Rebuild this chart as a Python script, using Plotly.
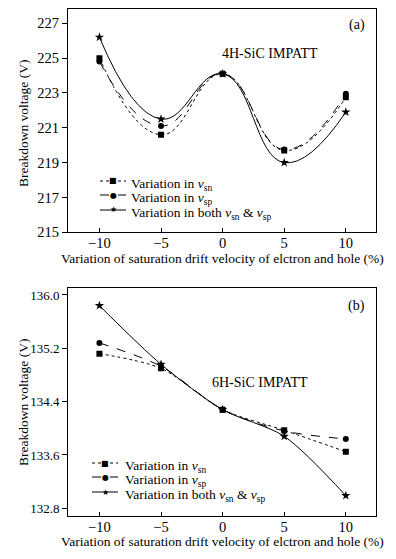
import plotly.graph_objects as go

# ---- data ----
x_pct = [-10, -5, 0, 5, 10]

# (a) 4H-SiC IMPATT
a_vsn = [225.0, 220.6, 224.1, 219.7, 222.75]
a_vsp = [224.8, 221.1, 224.1, 219.75, 222.95]
a_both = [226.2, 221.5, 224.1, 219.0, 221.9]

# (b) 6H-SiC IMPATT
b_vsn = [135.12, 134.90, 134.28, 133.97, 133.65]
b_vsp = [135.28, 134.93, 134.28, 133.96, 133.84]
b_both = [135.84, 134.96, 134.28, 133.88, 132.99]

a_ticks = [215, 217, 219, 221, 223, 225, 227]
b_ticks = [132.8, 133.6, 134.4, 135.2, 136.0]
x_ticks = [-10, -5, 0, 5, 10]

names = ["Variation in <i>v</i><sub>sn</sub>",
         "Variation in <i>v</i><sub>sp</sub>",
         "Variation in both <i>v</i><sub>sn</sub> &amp; <i>v</i><sub>sp</sub>"]

FONT = "Liberation Serif"
# page body has an 8px default margin: figure sized so page fits the 396x559 window
OFF = 8
W, H = 396 - OFF, 559 - 2 * OFF


def px(rx):
    return (rx - OFF) / W


def py(ry):
    return 1 - (ry - OFF) / H


fig = go.Figure()

styles = [
    dict(dash="dot", symbol="square", size=6, glyph="\u25A0", gsize=8),
    dict(dash="dash", symbol="circle", size=6, glyph="\u25CF", gsize=8),
    dict(dash="solid", symbol="star", size=7, glyph="\u2605", gsize=8),
]

for i, (ys, st) in enumerate(zip([a_vsn, a_vsp, a_both], styles)):
    fig.add_trace(go.Scatter(
        x=x_pct, y=ys, mode="lines+markers", name=names[i], showlegend=False,
        line=dict(color="black", width=1, dash=st["dash"], shape="spline", smoothing=1.3),
        marker=dict(color="black", symbol=st["symbol"], size=st["size"]),
        xaxis="x", yaxis="y"))

for i, (ys, st) in enumerate(zip([b_vsn, b_vsp, b_both], styles)):
    fig.add_trace(go.Scatter(
        x=x_pct, y=ys, mode="lines+markers", name=names[i], showlegend=False,
        line=dict(color="black", width=1, dash=st["dash"], shape="spline", smoothing=0.8),
        marker=dict(color="black", symbol=st["symbol"], size=st["size"]),
        xaxis="x2", yaxis="y2"))

xdom = [px(68), px(376)]
ydom_a = [py(232.3), py(8.5)]
ydom_b = [py(516.3), py(288.3)]

xtitle = "Variation of saturation drift velocity of elctron and hole (%)"
ytitle = "Breakdown voltage (V)"

base = dict(showline=True, linecolor="black", linewidth=1, mirror=True,
            showgrid=False, zeroline=False, automargin=False, tickcolor="black")

fig.update_layout(
    width=W, height=H,
    margin=dict(l=0, r=0, t=0, b=0),
    paper_bgcolor="white", plot_bgcolor="white",
    font=dict(family=FONT, color="black"),
    showlegend=False,
    xaxis=dict(domain=xdom, anchor="y", range=[-12.55, 12.45], tickvals=x_ticks,
               ticks="inside", ticklen=4, ticklabelstandoff=-3,
               tickfont=dict(family=FONT, size=14.5, color="black"), **base),
    yaxis=dict(domain=ydom_a, anchor="x", range=[215, 227.85], tickvals=a_ticks,
               ticks="outside", ticklen=5,
               tickfont=dict(family=FONT, size=14.5, color="black"), **base),
    xaxis2=dict(domain=xdom, anchor="y2", range=[-12.55, 12.45], tickvals=x_ticks,
                ticks="inside", ticklen=4, ticklabelstandoff=-3,
                tickfont=dict(family=FONT, size=14.5, color="black"), **base),
    yaxis2=dict(domain=ydom_b, anchor="x2", range=[132.68, 136.1], tickvals=b_ticks,
                tickformat=".1f", ticks="outside", ticklen=5,
                tickfont=dict(family=FONT, size=13, color="black"), **base),
)

ann_font = dict(family=FONT, size=14, color="black")
title_font = dict(family=FONT, size=13.5, color="black")

# axis titles
for xt_y, yt_y in [(258.5, 124), (541.5, 403)]:
    fig.add_annotation(x=px((68 + 376) / 2), y=py(xt_y), xref="paper", yref="paper",
                       text=xtitle, showarrow=False, font=title_font,
                       xanchor="center", yanchor="middle")
    fig.add_annotation(x=px(23), y=py(yt_y), xref="paper", yref="paper",
                       text=ytitle, showarrow=False, font=title_font, textangle=-90,
                       xanchor="center", yanchor="middle")

# panel labels
fig.add_annotation(x=10.9, y=226.9, xref="x", yref="y", text="(a)", showarrow=False, font=ann_font)
fig.add_annotation(x=3.85, y=225.25, xref="x", yref="y", text="4H-SiC IMPATT", showarrow=False, font=ann_font)
fig.add_annotation(x=10.9, y=135.84, xref="x2", yref="y2", text="(b)", showarrow=False, font=ann_font)
fig.add_annotation(x=3.04, y=134.68, xref="x2", yref="y2", text="6H-SiC IMPATT", showarrow=False, font=ann_font)

# legends (one per panel): key line + key glyph + label
legend_specs = [
    dict(rows=[181, 195, 210], k0=100, k1=126, text_x=129),
    dict(rows=[463, 477, 492], k0=92, k1=118, text_x=123),
]
for spec in legend_specs:
    for i, st in enumerate(styles):
        ry = spec["rows"][i]
        fig.add_shape(type="line", xref="paper", yref="paper",
                      x0=px(spec["k0"]), x1=px(spec["k1"]), y0=py(ry), y1=py(ry),
                      line=dict(color="black", width=1, dash=st["dash"]))
        fig.add_annotation(x=px((spec["k0"] + spec["k1"]) / 2), y=py(ry), xref="paper", yref="paper",
                           text=st["glyph"], showarrow=False,
                           font=dict(family="DejaVu Sans", size=st["gsize"], color="black"),
                           xanchor="center", yanchor="middle")
        fig.add_annotation(x=px(spec["text_x"]), y=py(ry + 3), xref="paper", yref="paper",
                           text=names[i], showarrow=False,
                           font=dict(family=FONT, size=13.5, color="black"),
                           xanchor="left", yanchor="middle")

fig.write_html("out.html")
